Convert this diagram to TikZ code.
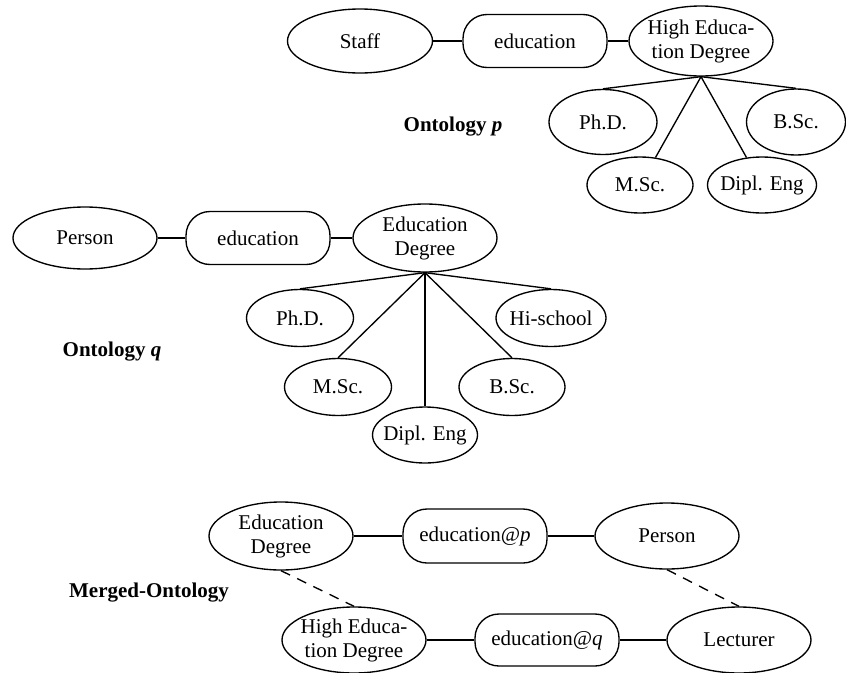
\documentclass[tikz,border=0pt]{standalone}
\usepackage{fontspec}
\setmainfont{Liberation Serif}
\usetikzlibrary{shapes.geometric}

\tikzset{
  base/.style={draw, line width=1.35pt, font=\fontsize{21pt}{24pt}\selectfont, align=center},
  concept/.style={base, ellipse, inner xsep=-10pt, inner ysep=0pt,
                  minimum width=#1},
  concept/.default=144pt,
  relation/.style={base, rectangle, rounded corners=24pt, inner sep=0pt,
                   minimum width=144pt, minimum height=53pt},
  link/.style={line width=1.35pt},
  mapping/.style={line width=1.35pt, dash pattern=on 10pt off 8pt},
  title/.style={font=\fontsize{21pt}{24pt}\selectfont\bfseries}
}

\begin{document}
\begin{tikzpicture}[x=1pt, y=-1pt]
\useasboundingbox (0,0) rectangle (846,672);

% ---------- Ontology p ----------
\node[concept=145pt, minimum height=64pt] (staffP) at (360,41) {Staff};
\node[relation] (eduP) at (535,41) {education};
\node[concept, minimum height=70pt] (hedP) at (701,41) {High Educa-\\tion Degree};
\node[concept=108pt, minimum height=65pt] (phdP) at (603,122) {Ph.D.};
\node[concept=99pt, minimum height=66pt] (bscP) at (796,122) {B.Sc.};
\node[concept=106pt, minimum height=56pt] (mscP) at (640,185) {M.Sc.};
\node[concept=109pt, minimum height=56pt] (diplP) at (762,185) {Dipl. Eng};
\node[title] (labelP) at (453,127) {Ontology \textit{p}};

\draw[link] (staffP) -- (eduP);
\draw[link] (eduP) -- (hedP);
\draw[link] (hedP.south) -- (phdP.north);
\draw[link] (hedP.south) -- (bscP.north);
\draw[link] (hedP.south) -- (mscP);
\draw[link] (hedP.south) -- (diplP);

% ---------- Ontology q ----------
\node[concept, minimum height=62pt] (personQ) at (85,238) {Person};
\node[relation] (eduQ) at (258,238) {education};
\node[concept, minimum height=68pt] (edQ) at (425,238) {Education\\Degree};
\node[concept=107pt, minimum height=57pt] (phdQ) at (300,318) {Ph.D.};
\node[concept=110pt, minimum height=57pt] (hischQ) at (551,318) {Hi-school};
\node[concept=107pt, minimum height=57pt] (mscQ) at (338,387) {M.Sc.};
\node[concept=106pt, minimum height=57pt] (bscQ) at (512,387) {B.Sc.};
\node[concept=105pt, minimum height=56pt] (diplQ) at (425,435) {Dipl. Eng};
\node[title] (labelQ) at (112,352) {Ontology \textit{q}};

\draw[link] (personQ) -- (eduQ);
\draw[link] (eduQ) -- (edQ);
\draw[link] (edQ.south) -- (phdQ.north);
\draw[link] (edQ.south) -- (hischQ.north);
\draw[link] (edQ.south) -- (mscQ.north);
\draw[link] (edQ.south) -- (bscQ.north);
\draw[link] (edQ.south) -- (diplQ.north);

% ---------- Merged ontology ----------
\node[concept, minimum height=68pt] (edM) at (281,536) {Education\\Degree};
\node[relation, minimum height=54pt] (edupM) at (475,536) {education@\textit{p}};
\node[concept, minimum height=66pt] (personM) at (667,536) {Person};
\node[concept, minimum height=66pt] (hedM) at (354,640) {High Educa-\\tion Degree};
\node[relation, minimum height=52pt] (eduqM) at (547,640) {education@\textit{q}};
\node[concept, minimum height=66pt] (lectM) at (739,640) {Lecturer};
\node[title] (labelM) at (149,593) {Merged-Ontology};

\draw[link] (edM) -- (edupM);
\draw[link] (edupM) -- (personM);
\draw[link] (hedM) -- (eduqM);
\draw[link] (eduqM) -- (lectM);
\draw[mapping] (edM.south) -- (hedM.north);
\draw[mapping] (personM.south) -- (lectM.north);
\end{tikzpicture}
\end{document}
